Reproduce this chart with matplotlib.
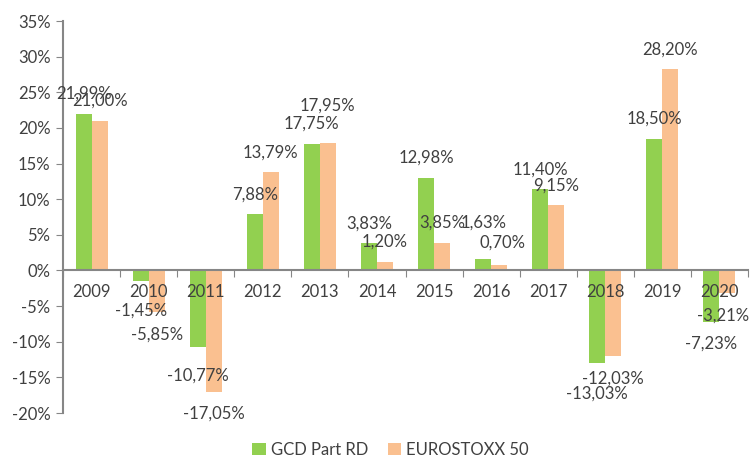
import numpy as np
import matplotlib
matplotlib.use("Agg")
import matplotlib.pyplot as plt
from matplotlib.ticker import FixedLocator, FuncFormatter

# data
years = ["2009", "2010", "2011", "2012", "2013", "2014",
         "2015", "2016", "2017", "2018", "2019", "2020"]
gcd_part_rd = [21.99, -1.45, -10.77, 7.88, 17.75, 3.83,
               12.98, 1.63, 11.40, -13.03, 18.50, -7.23]
eurostoxx_50 = [21.00, -5.85, -17.05, 13.79, 17.95, 1.20,
                3.85, 0.70, 9.15, -12.03, 28.20, -3.21]
series_names = ["GCD Part RD", "EUROSTOXX 50"]
y_ticks = [-20, -15, -10, -5, 0, 5, 10, 15, 20, 25, 30, 35]

# extra label nudges (pixels) where the original labels were moved to avoid overlaps
label_nudge = {
    (0, 1): (0, -8), (0, 2): (0, -6), (0, 7): (0, 16), (0, 9): (0, -8),
    (1, 4): (0, 17), (1, 7): (3, 3), (1, 11): (-4, 0),
}

GREEN = "#92D050"
PEACH = "#FAC090"
AXIS_GREY = "#868686"
TEXT = "#404040"
FS = 12

plt.rcParams["font.family"] = ["Lato", "DejaVu Sans"]

fig = plt.figure(figsize=(7.51, 4.68), dpi=100)
ax = fig.add_axes([0.0839, 0.1175, 0.9121, 0.8376])
ax.set_axisbelow(False)

x = np.arange(len(years))
w = 0.28
colors = [GREEN, PEACH]
for s, vals in enumerate([gcd_part_rd, eurostoxx_50]):
    pos = x + (s - 0.5) * w
    ax.bar(pos, vals, width=w, color=colors[s], label=series_names[s], zorder=2)
    for i, v in enumerate(vals):
        dx, dy = label_nudge.get((s, i), (0, 0))
        off = 20 if v >= 0 else -22
        ax.annotate(f"{v:.2f}%".replace(".", ","), (pos[i], v),
                    xytext=(dx, off + dy), textcoords="offset pixels",
                    ha="center", va="center", fontsize=FS, color=TEXT, zorder=3)

ax.set_xlim(-0.5, len(years) - 0.5)
ax.set_ylim(-20, 35)

# y axis
ax.yaxis.set_major_locator(FixedLocator(y_ticks))
ax.yaxis.set_major_formatter(FuncFormatter(lambda v, p: f"{v:.0f}%"))
ax.tick_params(axis="y", direction="out", length=5, color=AXIS_GREY,
               labelsize=FS, labelcolor=TEXT, pad=4)

# x axis on the zero line, ticks between categories
ax.spines["bottom"].set_position(("data", 0))
ax.xaxis.set_major_locator(FixedLocator(np.arange(-0.5, len(years), 1.0)))
ax.xaxis.set_major_formatter(FuncFormatter(lambda v, p: ""))
ax.xaxis.set_minor_locator(FixedLocator(x))
ax.set_xticklabels(years, minor=True)
ax.tick_params(axis="x", which="major", direction="out", length=5, color=AXIS_GREY)
ax.tick_params(axis="x", which="minor", length=0, labelsize=FS,
               labelcolor=TEXT, pad=10)

for side in ["top", "right"]:
    ax.spines[side].set_visible(False)
for side in ["left", "bottom"]:
    ax.spines[side].set_color(AXIS_GREY)
    ax.spines[side].set_linewidth(1.5)

fig.legend(loc="lower center", bbox_to_anchor=(0.52, -0.01), ncol=2, frameon=False,
           fontsize=FS, handlelength=0.8, handleheight=0.8, handletextpad=0.3,
           columnspacing=1.2, labelcolor=TEXT)

fig.savefig("out.png", dpi=100)
